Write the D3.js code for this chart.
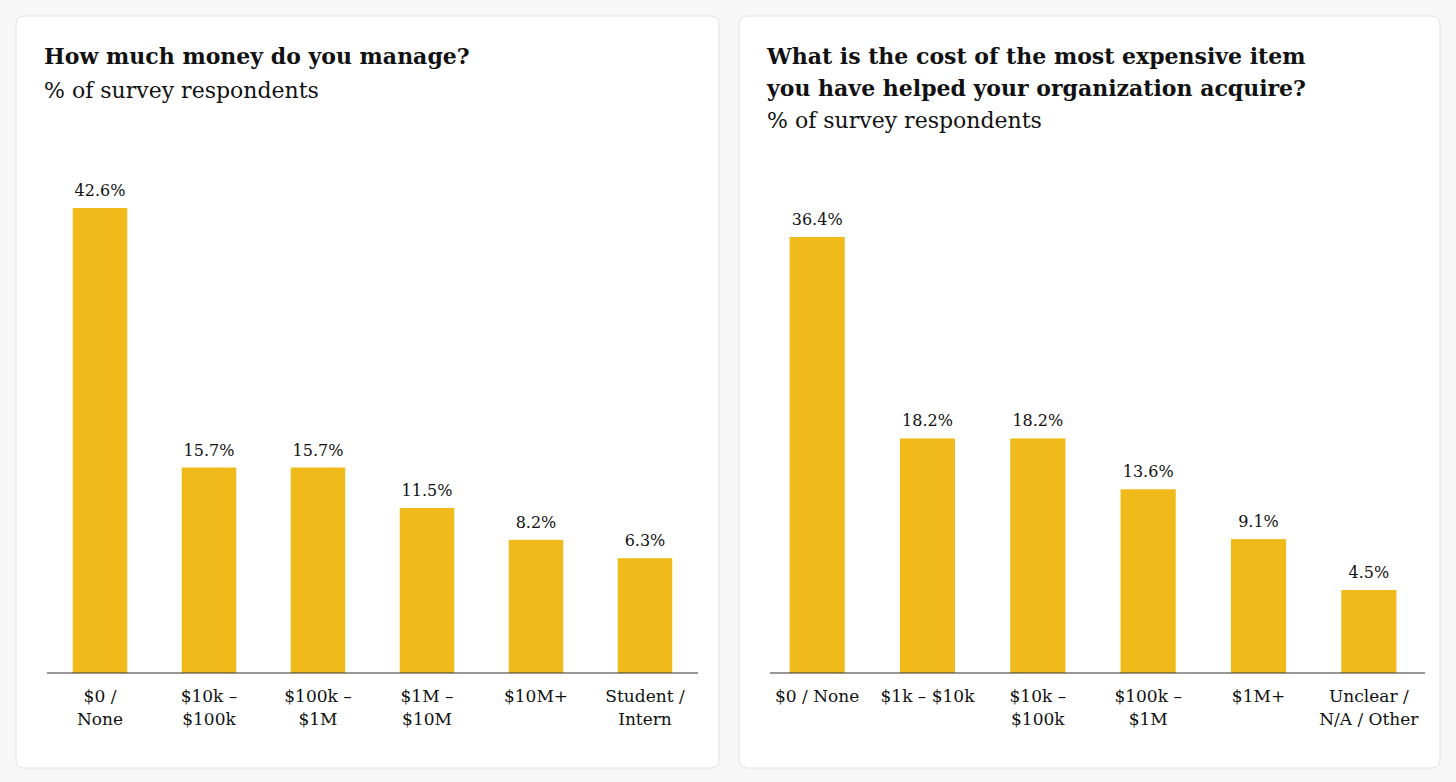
<!DOCTYPE html>
<html>
<head>
<meta charset="utf-8">
<script src="https://cdn.jsdelivr.net/npm/d3@7"></script>
<style>
  body { margin: 0; background: #f7f7f7; }
  svg { display: block; }
  text { font-family: "DejaVu Serif", "Liberation Serif", serif; fill: #111; }
</style>
</head>
<body>
<svg id="chart" width="1456" height="782"></svg>
<script>
// left chart
const leftCategories = [["$0 /", "None"], ["$10k –", "$100k"], ["$100k –", "$1M"], ["$1M –", "$10M"], ["$10M+"], ["Student /", "Intern"]];
const leftValues = [42.6, 15.7, 15.7, 11.5, 8.2, 6.3];
// right chart
const rightCategories = [["$0 / None"], ["$1k – $10k"], ["$10k –", "$100k"], ["$100k –", "$1M"], ["$1M+"], ["Unclear /", "N/A / Other"]];
const rightValues = [36.4, 18.2, 18.2, 13.6, 9.1, 4.5];

const svg = d3.select("#chart");
const baseline = 673;

function panel(opts) {
  const g = svg.append("g");
  g.append("rect")
    .attr("x", opts.x0).attr("y", 16)
    .attr("width", opts.w).attr("height", 752)
    .attr("rx", 8)
    .attr("fill", "#fff").attr("stroke", "#e2e2e2");

  opts.title.forEach((t, i) => {
    g.append("text")
      .attr("x", opts.x0 + 28).attr("y", 64 + i * 32)
      .style("font-size", "22px").style("font-weight", "bold")
      .text(t);
  });
  g.append("text")
    .attr("x", opts.x0 + 28).attr("y", 98 + (opts.title.length - 1) * 30)
    .style("font-size", "22px")
    .text("% of survey respondents");

  const x = d3.scaleBand()
    .domain(d3.range(opts.values.length))
    .range(opts.band)
    .paddingInner(0.5).paddingOuter(0.25);

  const y = d3.scaleLinear()
    .domain([-opts.offset, opts.max])
    .range([baseline, opts.top]);

  g.selectAll(".bar")
    .data(opts.values)
    .enter().append("rect")
    .attr("x", (d, i) => x(i))
    .attr("width", x.bandwidth())
    .attr("y", d => y(d))
    .attr("height", d => baseline - y(d))
    .attr("fill", "#f0bb1a");

  g.selectAll(".val")
    .data(opts.values)
    .enter().append("text")
    .attr("x", (d, i) => x(i) + x.bandwidth() / 2)
    .attr("y", d => y(d) - 12)
    .attr("text-anchor", "middle")
    .style("font-size", "16px")
    .text(d => d.toFixed(1) + "%");

  g.append("line")
    .attr("x1", opts.axis[0]).attr("x2", opts.axis[1])
    .attr("y1", baseline).attr("y2", baseline)
    .attr("stroke", "#333").attr("stroke-width", 1.2);

  opts.categories.forEach((lines, i) => {
    lines.forEach((l, j) => {
      g.append("text")
        .attr("x", x(i) + x.bandwidth() / 2)
        .attr("y", 702 + j * 23)
        .attr("text-anchor", "middle")
        .style("font-size", "17px")
        .text(l);
    });
  });
}

panel({
  x0: 16, w: 703,
  title: ["How much money do you manage?"],
  categories: leftCategories, values: leftValues,
  axis: [47, 698], band: [45.5, 699.5], max: 42.6, top: 208, offset: 5.6
});

panel({
  x0: 739, w: 701,
  title: ["What is the cost of the most expensive item", "you have helped your organization acquire?"],
  categories: rightCategories, values: rightValues,
  axis: [770, 1425], band: [762, 1424], max: 36.4, top: 237, offset: 3
});
</script>
</body>
</html>
